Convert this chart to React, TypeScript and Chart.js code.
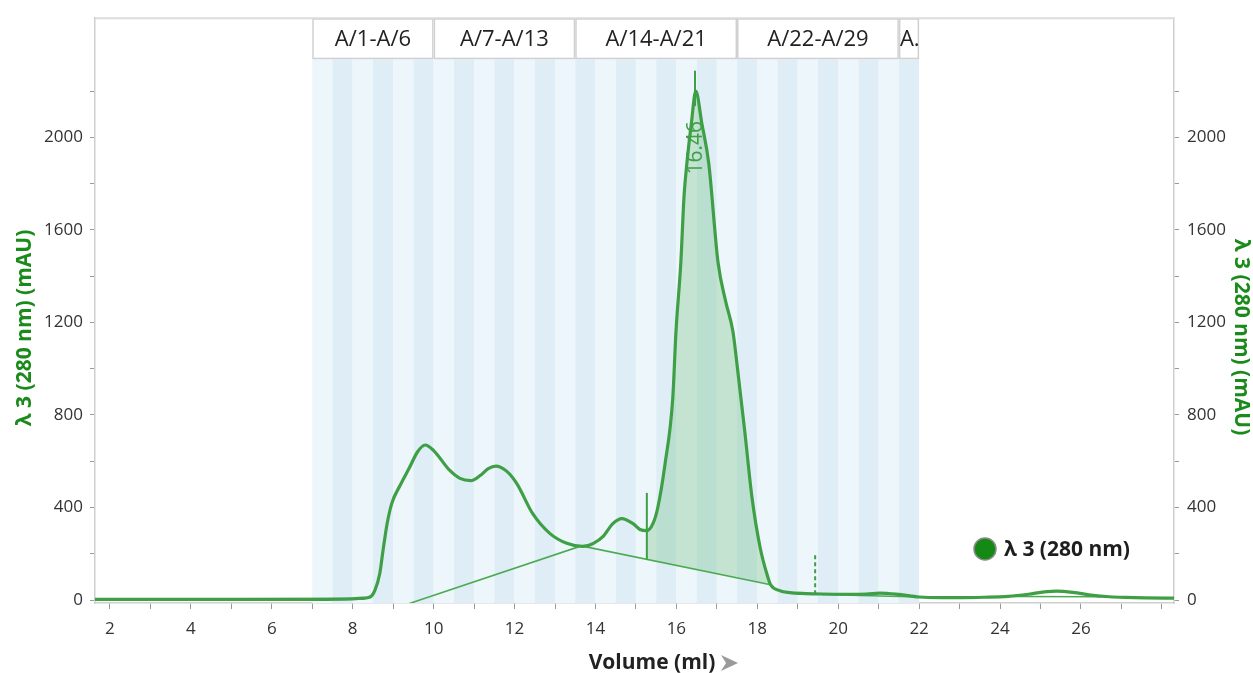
import React, { useEffect, useRef } from 'react';
import { Chart, registerables } from 'chart.js';

Chart.register(...registerables);

// ---- data ----
const volume = [1.63, 3, 5, 7, 8.0, 8.25, 8.43, 8.55, 8.67, 8.75, 8.85, 8.97, 9.17, 9.41, 9.6, 9.79, 10.0, 10.4, 10.65, 10.92, 11.15, 11.35, 11.54, 11.81, 12.06, 12.45, 12.87, 13.29, 13.68, 13.95, 14.19, 14.43, 14.65, 14.93, 15.1, 15.27, 15.42, 15.54, 15.72, 15.91, 15.99, 16.11, 16.19, 16.26, 16.37, 16.48, 16.63, 16.8, 17.03, 17.22, 17.4, 17.5, 17.69, 17.87, 18.07, 18.25, 18.33, 18.56, 18.8, 19.2, 19.6, 20.2, 20.7, 21.03, 21.5, 22.0, 22.5, 23.0, 23.6, 24.2, 24.7, 25.1, 25.4, 25.8, 26.3, 26.7, 27.1, 27.6, 28.3];
const absorbance = [3, 3, 3, 3, 5, 8, 13, 43, 116, 215, 330, 420, 495, 575, 640, 670, 646, 560, 526, 516, 538, 568, 579, 556, 502, 373, 288, 245, 232, 245, 275, 330, 352, 330, 305, 300, 330, 399, 588, 871, 1159, 1459, 1747, 1888, 2060, 2200, 2060, 1888, 1459, 1290, 1159, 1017, 730, 442, 227, 105, 66, 40, 32, 28, 26, 25, 26, 30, 24, 13, 10, 10, 12, 16, 25, 35, 38, 33, 20, 14, 11, 9, 8];

const peakBaseVolume = [9.4, 13.65, 18.33];
const peakBaseValue = [-15, 234, 66];
const tailBaseVolumeA = [19.6, 22.0];
const tailBaseValueA = [24, 13];
const tailBaseVolumeB = [24.3, 26.5];
const tailBaseValueB = [15, 14];
const flatVolume = [1.63, 8.3];
const flatValue = [3, 6];

const peakStart = 15.27;
const peakEnd = 18.33;
const peakRetention = 16.46;
const peakTop = 2200;
const peakStartMarkTop = 463;
const fractionCollectEnd = 19.43;
const fractionCollectMarkTop = 193;

const fractionEdges = [7, 7.5, 8, 8.5, 9, 9.5, 10, 10.5, 11, 11.5, 12, 12.5, 13, 13.5, 14, 14.5, 15, 15.5, 16, 16.5, 17, 17.5, 18, 18.5, 19, 19.5, 20, 20.5, 21, 21.5, 22];
const fractionGroupEdges = [7, 10, 13.5, 17.5, 21.5, 22];
const fractionGroupLabels = ['A/1-A/6', 'A/7-A/13', 'A/14-A/21', 'A/22-A/29', 'A.'];

const xTicks = [2, 3, 4, 5, 6, 7, 8, 9, 10, 11, 12, 13, 14, 15, 16, 17, 18, 19, 20, 21, 22, 23, 24, 25, 26, 27, 28];
const xLabels = ['2', '', '4', '', '6', '', '8', '', '10', '', '12', '', '14', '', '16', '', '18', '', '20', '', '22', '', '24', '', '26', '', ''];
const yTicks = [0, 200, 400, 600, 800, 1000, 1200, 1400, 1600, 1800, 2000, 2200];
const yLabels = ['0', '', '400', '', '800', '', '1200', '', '1600', '', '2000', ''];

const seriesName = 'λ 3 (280 nm)';
const yTitle = 'λ 3 (280 nm) (mAU)';
const xTitle = 'Volume (ml)';

const FONT = '"Open Sans", "Noto Sans", sans-serif';
const GREEN = '#3f9f46';
const TITLE_GREEN = '#1a8a1a';

const pts = (xs: number[], ys: number[]) => xs.map((x, i) => ({ x, y: ys[i] }));

const backgroundPlugin = {
  id: 'fractions',
  beforeDatasetsDraw(chart: any) {
    const { ctx, chartArea, scales } = chart;
    const x = scales.x;
    const headerH = 41;
    ctx.save();
    for (let i = 0; i < fractionEdges.length - 1; i++) {
      const a = x.getPixelForValue(fractionEdges[i]);
      const b = x.getPixelForValue(fractionEdges[i + 1]);
      ctx.fillStyle = i % 2 === 0 ? '#edf6fa' : '#dfeef6';
      ctx.fillRect(a, chartArea.top + headerH, b - a, chartArea.bottom - chartArea.top - headerH);
    }
    ctx.strokeStyle = '#dcdcdc';
    ctx.lineWidth = 2;
    ctx.beginPath();
    ctx.moveTo(chartArea.left, chartArea.top);
    ctx.lineTo(chartArea.right, chartArea.top);
    ctx.stroke();
    ctx.font = `22px ${FONT}`;
    ctx.textBaseline = 'middle';
    for (let i = 0; i < fractionGroupLabels.length; i++) {
      const a = x.getPixelForValue(fractionGroupEdges[i]);
      const b = x.getPixelForValue(fractionGroupEdges[i + 1]);
      ctx.fillStyle = '#ffffff';
      ctx.fillRect(a, chartArea.top, b - a, headerH);
      ctx.strokeStyle = '#d0d0d0';
      ctx.lineWidth = 1.5;
      ctx.strokeRect(a + 0.75, chartArea.top + 0.75, b - a - 1.5, headerH - 1.5);
      ctx.fillStyle = '#222222';
      const label = fractionGroupLabels[i];
      const w = ctx.measureText(label).width;
      if (w < b - a - 4) {
        ctx.textAlign = 'center';
        ctx.fillText(label, (a + b) / 2, chartArea.top + headerH / 2 + 1);
      } else {
        ctx.textAlign = 'left';
        ctx.fillText(label, a + 1, chartArea.top + headerH / 2 + 1);
      }
    }
    ctx.restore();
  },
};

const annotationPlugin = {
  id: 'annotations',
  afterDatasetsDraw(chart: any) {
    const { ctx, scales } = chart;
    const x = scales.x;
    const y = scales.y;
    const baseAt = (v: number) => {
      const x0 = peakBaseVolume[1], x1 = peakBaseVolume[2];
      const y0 = peakBaseValue[1], y1 = peakBaseValue[2];
      return y0 + ((v - x0) / (x1 - x0)) * (y1 - y0);
    };
    ctx.save();
    ctx.strokeStyle = GREEN;
    ctx.lineWidth = 2;
    ctx.beginPath();
    ctx.moveTo(x.getPixelForValue(peakStart), y.getPixelForValue(peakStartMarkTop));
    ctx.lineTo(x.getPixelForValue(peakStart), y.getPixelForValue(baseAt(peakStart)));
    ctx.stroke();
    const px = x.getPixelForValue(peakRetention);
    ctx.beginPath();
    ctx.moveTo(px, y.getPixelForValue(peakTop + 88));
    ctx.lineTo(px, y.getPixelForValue(peakTop - 65));
    ctx.stroke();
    ctx.setLineDash([4, 3]);
    ctx.beginPath();
    ctx.moveTo(x.getPixelForValue(fractionCollectEnd), y.getPixelForValue(fractionCollectMarkTop));
    ctx.lineTo(x.getPixelForValue(fractionCollectEnd), y.getPixelForValue(25));
    ctx.stroke();
    ctx.setLineDash([]);
    ctx.translate(px + 1, y.getPixelForValue(peakTop - 245));
    ctx.rotate(-Math.PI / 2);
    ctx.font = `21px ${FONT}`;
    ctx.fillStyle = GREEN;
    ctx.textAlign = 'center';
    ctx.textBaseline = 'middle';
    ctx.fillText(String(peakRetention), 0, 0);
    ctx.restore();

    // axis titles
    ctx.save();
    ctx.font = `bold 21px ${FONT}`;
    ctx.fillStyle = TITLE_GREEN;
    ctx.textAlign = 'center';
    ctx.textBaseline = 'middle';
    ctx.translate(25, 328);
    ctx.rotate(-Math.PI / 2);
    ctx.fillText(yTitle, 0, 0);
    ctx.restore();
    ctx.save();
    ctx.font = `bold 21px ${FONT}`;
    ctx.fillStyle = TITLE_GREEN;
    ctx.textAlign = 'center';
    ctx.textBaseline = 'middle';
    ctx.translate(1241, 337);
    ctx.rotate(Math.PI / 2);
    ctx.fillText(yTitle, 0, 0);
    ctx.restore();

    // legend
    ctx.save();
    ctx.beginPath();
    ctx.arc(985, 549, 11, 0, Math.PI * 2);
    ctx.fillStyle = '#148a14';
    ctx.fill();
    ctx.strokeStyle = '#8a8a8a';
    ctx.lineWidth = 1.5;
    ctx.stroke();
    ctx.font = `bold 21px ${FONT}`;
    ctx.fillStyle = '#1e1e1e';
    ctx.textAlign = 'left';
    ctx.textBaseline = 'middle';
    ctx.fillText(seriesName, 1004, 550);

    // x title + arrow
    ctx.font = `bold 21px ${FONT}`;
    ctx.fillStyle = '#222222';
    ctx.textAlign = 'center';
    ctx.fillText(xTitle, 652, 663);
    ctx.beginPath();
    ctx.moveTo(721, 655);
    ctx.lineTo(738, 663);
    ctx.lineTo(721, 671);
    ctx.lineTo(726, 663);
    ctx.closePath();
    ctx.fillStyle = '#9a9a9a';
    ctx.fill();
    ctx.restore();
  },
};

export default function App() {
  const ref = useRef<HTMLCanvasElement>(null);

  useEffect(() => {
    if (!ref.current) return;
    const curve = pts(volume, absorbance);
    const peakArea = curve.filter((p) => p.x >= peakStart && p.x <= peakEnd);
    const yAxisCommon = {
      type: 'linear' as const,
      min: -12.9,
      max: 2515,
      afterBuildTicks: (s: any) => {
        s.ticks = yTicks.map((v) => ({ value: v }));
      },
      ticks: {
        color: '#333333',
        font: { family: FONT, size: 17 },
        callback: (_v: any, i: number) => yLabels[i],
        autoSkip: false,
      },
      grid: { display: true, drawOnChartArea: false, drawTicks: true, tickLength: 5, color: '#9a9a9a', lineWidth: 1 },
      border: { display: true, color: '#cfcfcf', width: 1.5 },
      title: { display: false },
    };
    const chart = new Chart(ref.current, {
      type: 'line',
      data: {
        datasets: [
          {
            label: seriesName,
            data: curve,
            borderColor: GREEN,
            borderWidth: 3.2,
            pointRadius: 0,
            cubicInterpolationMode: 'monotone',
            fill: false,
          },
          {
            label: 'flat',
            data: pts(flatVolume, flatValue),
            borderColor: '#24882b',
            borderWidth: 2,
            pointRadius: 0,
            tension: 0,
            fill: false,
          },
          {
            label: 'baseline',
            data: pts(peakBaseVolume, peakBaseValue),
            borderColor: '#4caa52',
            borderWidth: 1.6,
            pointRadius: 0,
            tension: 0,
            fill: false,
          },
          {
            label: 'tailA',
            data: pts(tailBaseVolumeA, tailBaseValueA),
            borderColor: '#4caa52',
            borderWidth: 1.4,
            pointRadius: 0,
            tension: 0,
            fill: false,
          },
          {
            label: 'tailB',
            data: pts(tailBaseVolumeB, tailBaseValueB),
            borderColor: '#4caa52',
            borderWidth: 1.4,
            pointRadius: 0,
            tension: 0,
            fill: false,
          },
          {
            label: 'area',
            data: peakArea,
            borderColor: 'rgba(0,0,0,0)',
            borderWidth: 0,
            pointRadius: 0,
            cubicInterpolationMode: 'monotone',
            backgroundColor: 'rgba(110,190,125,0.32)',
            fill: 2,
          },
        ],
      },
      options: {
        responsive: false,
        animation: false,
        events: [],
        layout: { padding: { top: 14, left: 0, right: 0, bottom: 0 } },
        plugins: {
          legend: { display: false },
          tooltip: { enabled: false },
          title: { display: false },
        },
        scales: {
          x: {
            type: 'linear',
            min: 1.63,
            max: 28.3,
            afterBuildTicks: (s: any) => {
              s.ticks = xTicks.map((v) => ({ value: v }));
            },
            afterFit: (s: any) => {
              s.height = 70;
            },
            ticks: {
              color: '#333333',
              font: { family: FONT, size: 17 },
              padding: 10,
              maxRotation: 0,
              autoSkip: false,
              callback: (_v: any, i: number) => xLabels[i],
            },
            grid: { display: true, drawOnChartArea: false, drawTicks: true, tickLength: 6, color: '#9a9a9a' },
            border: { display: true, color: '#cfcfcf', width: 1.5 },
          },
          y: {
            ...yAxisCommon,
            position: 'left',
            afterFit: (s: any) => {
              s.width = 95;
            },
            ticks: { ...yAxisCommon.ticks, padding: 7 },
          },
          y2: {
            ...yAxisCommon,
            position: 'right',
            afterFit: (s: any) => {
              s.width = 79;
            },
            ticks: { ...yAxisCommon.ticks, padding: 8 },
          },
        },
      } as any,
      plugins: [backgroundPlugin, annotationPlugin],
    });
    return () => chart.destroy();
  }, []);

  return (
    <div style={{ position: 'absolute', left: 0, top: 0, width: 1253, height: 673, background: '#ffffff' }}>
      <canvas ref={ref} width={1253} height={673} style={{ display: 'block', width: 1253, height: 673 }} />
    </div>
  );
}
